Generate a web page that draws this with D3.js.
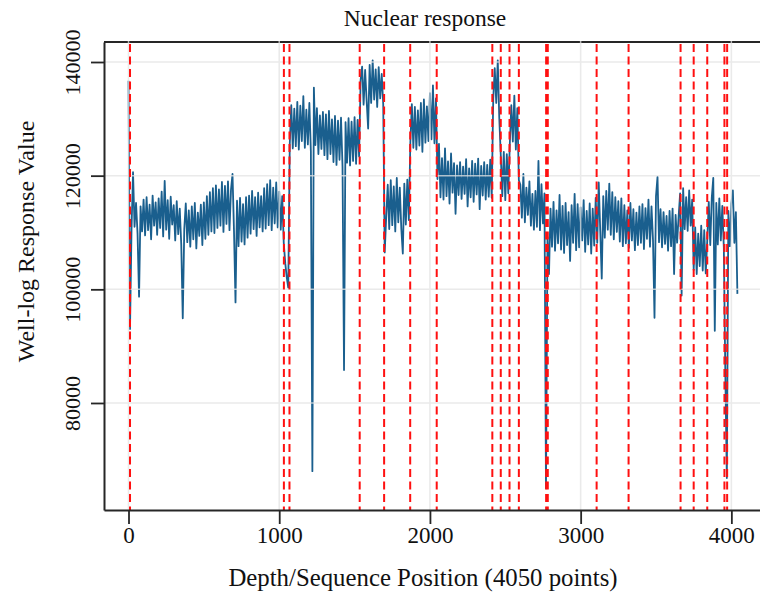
<!DOCTYPE html>
<html>
<head>
<meta charset="utf-8">
<script src="https://cdn.jsdelivr.net/npm/d3@7"></script>
<style>
  body { margin: 0; background: #fff; }
  svg { display: block; font-family: 'Liberation Serif', 'Times New Roman', serif; }
</style>
</head>
<body>
<svg width="760" height="596"></svg>
<script>
// well-log response, every 10 positions (in thousands)
var step = 10
var response = [
  136.7, 93.0, 110.5, 120.6, 111.0, 115.2, 109.8, 98.7, 114.6, 110.2,
  115.8, 109.5, 116.2, 110.4, 114.9, 108.8, 116.5, 111.2, 115.3, 109.6,
  116.0, 110.8, 117.2, 109.3, 119.1, 110.5, 115.7, 108.9, 116.3, 111.4,
  114.8, 108.6, 115.5, 109.7, 114.2, 107.9, 94.9, 110.6, 115.1, 108.3,
  113.9, 107.5, 114.6, 108.8, 115.2, 107.2, 113.5, 109.4, 114.9, 107.8,
  115.3, 108.9, 116.4, 109.6, 117.1, 110.2, 117.8, 109.9, 118.3, 110.8,
  117.6, 111.2, 118.9, 110.1, 118.2, 111.5, 119.0, 110.4, 117.5, 120.3,
  110.2, 97.7, 115.6, 107.6, 116.1, 108.4, 115.0, 107.9, 116.2, 109.1,
  116.5, 109.8, 117.3, 110.6, 116.2, 109.4, 117.0, 110.9, 116.4, 110.2,
  117.8, 110.7, 118.5, 111.3, 119.2, 110.4, 117.9, 111.6, 118.8, 110.9,
  117.2, 110.5, 116.4, 108.2, 104.6, 102.1, 100.3, 125.6, 132.4, 124.8,
  131.8, 125.2, 133.0, 124.6, 132.3, 126.1, 134.0, 124.9, 131.6, 125.5,
  132.8, 124.3, 68.0, 135.5, 125.4, 131.9, 123.8, 130.6, 124.7, 131.2,
  123.6, 130.8, 122.9, 131.4, 123.8, 129.9, 122.4, 130.5, 121.9, 129.7,
  122.8, 130.2, 121.6, 85.8, 129.4, 122.3, 130.1, 121.8, 129.5, 122.6,
  130.3, 122.1, 129.8, 123.4, 136.8, 139.2, 132.5, 138.6, 133.2, 128.3,
  139.5, 132.8, 140.3, 133.4, 138.7, 132.1, 139.1, 133.6, 137.9, 132.6,
  106.5, 112.8, 118.4, 110.6, 119.2, 111.3, 118.1, 110.2, 119.6, 111.8,
  117.9, 110.7, 106.3, 118.6, 111.4, 119.3, 112.2, 125.8, 132.6, 124.9,
  132.1, 124.6, 131.5, 125.3, 132.8, 124.2, 133.4, 125.8, 132.2, 126.1,
  134.5, 126.4, 135.9, 125.7, 133.6, 119.4, 125.6, 116.2, 123.1, 115.8,
  124.8, 116.4, 122.5, 115.1, 123.9, 117.0, 122.2, 113.3, 121.8, 116.6,
  122.4, 115.9, 121.6, 116.8, 122.9, 114.6, 121.3, 116.2, 122.6, 115.4,
  122.1, 116.7, 123.0, 114.1, 121.7, 116.5, 122.4, 115.8, 121.9, 116.3,
  122.8, 116.1, 133.5, 138.9, 132.8, 140.3, 130.2, 123.6, 116.4, 124.2,
  115.7, 123.8, 116.9, 125.6, 132.4, 126.0, 134.1, 124.6, 131.9, 119.2,
  118.4, 112.6, 120.3, 111.8, 117.9, 113.1, 119.0, 111.2, 116.8, 110.5,
  117.3, 111.0, 122.6, 110.4, 118.5, 111.6, 116.9, 65.0, 109.2, 102.7,
  114.2, 107.5, 115.4, 106.8, 113.9, 108.1, 116.6, 107.0, 114.7, 106.4,
  115.2, 107.8, 113.6, 105.0, 114.8, 108.2, 116.8, 106.9, 115.0, 107.4,
  114.4, 108.6, 115.7, 106.6, 113.8, 107.9, 115.1, 106.3, 114.2, 107.7,
  116.1, 108.2, 118.8, 110.3, 101.9, 116.4, 109.1, 117.3, 110.5, 118.6,
  109.6, 117.1, 108.8, 116.2, 110.1, 115.5, 108.4, 116.0, 107.6, 114.8,
  108.1, 113.9, 107.3, 115.2, 108.6, 114.1, 106.9, 113.5, 107.8, 114.6,
  108.2, 115.0, 107.1, 114.3, 108.9, 115.8, 107.5, 114.6, 108.7, 95.0,
  116.4, 119.8, 108.3, 114.1, 107.4, 113.6, 108.0, 112.9, 106.8, 113.8,
  107.6, 114.2, 102.7, 113.1, 108.2, 112.8, 116.9, 98.9, 117.8, 110.6,
  116.2, 110.3, 117.4, 111.2, 115.8, 103.4, 110.9, 102.7, 109.8, 104.1,
  111.2, 103.3, 110.4, 102.8, 108.6, 115.4, 107.8, 116.1, 119.6, 92.7,
  115.2, 107.9, 116.0, 108.6, 114.7, 107.3, 85.1, 66.8, 113.8, 107.6,
  115.1, 117.4, 108.2, 113.6, 99.2
]

// detected change points (red dashed lines)
var changePoints = [10, 1031, 1068, 1534, 1696, 1869, 2045, 2414, 2470, 2528,
  2590, 2771, 2782, 3106, 3318, 3663, 3750, 3840, 3954, 3972]

var xTicks = [0, 1000, 2000, 3000, 4000]
var yTicks = [80000, 100000, 120000, 140000]

// frame
var plotLeft = 104, plotTop = 42, plotBottom = 510, plotRight = 760

var svg = d3.select('svg')

var x = d3.scaleLinear().domain([-162.6, 4190]).range([plotLeft, plotRight])
var y = d3.scaleLinear().domain([61170, 143520]).range([plotBottom, plotTop])

svg.append('defs').append('clipPath').attr('id', 'plot')
  .append('rect')
  .attr('x', plotLeft).attr('y', plotTop)
  .attr('width', plotRight - plotLeft).attr('height', plotBottom - plotTop)

// top spine
svg.append('line')
  .attr('x1', plotLeft).attr('x2', plotRight)
  .attr('y1', plotTop).attr('y2', plotTop)
  .attr('stroke', '#262626').attr('stroke-width', 2)

// the signal
var line = d3.line()
  .x(function(d, i) { return x(i * step) })
  .y(function(d) { return y(d * 1000) })

svg.append('path')
  .datum(response)
  .attr('clip-path', 'url(#plot)')
  .attr('d', line)
  .attr('fill', 'none')
  .attr('stroke', '#1a5f8e')
  .attr('stroke-width', 1.8)
  .attr('stroke-linejoin', 'round')

// grid, drawn over the data
var grid = svg.append('g').attr('stroke', '#e3e3e3').attr('stroke-width', 1.5).attr('opacity', 0.75)
grid.selectAll('.gx').data(xTicks).enter().append('line')
  .attr('x1', function(d) { return x(d) }).attr('x2', function(d) { return x(d) })
  .attr('y1', plotTop - 1).attr('y2', plotBottom)
grid.selectAll('.gy').data(yTicks).enter().append('line')
  .attr('y1', function(d) { return y(d) }).attr('y2', function(d) { return y(d) })
  .attr('x1', plotLeft).attr('x2', plotRight)

// change points
svg.append('g')
  .selectAll('line')
  .data(changePoints)
  .enter()
  .append('line')
  .attr('x1', function(d) { return x(d) }).attr('x2', function(d) { return x(d) })
  .attr('y1', plotTop + 2).attr('y2', plotBottom)
  .attr('stroke', '#ff1010')
  .attr('stroke-width', 2)
  .attr('stroke-dasharray', '8,4.5')

// axes
var xAxis = svg.append('g')
  .attr('transform', 'translate(0,' + plotBottom + ')')
  .call(d3.axisBottom(x).tickValues(xTicks).tickSize(14).tickSizeOuter(0).tickFormat(d3.format('d')))
var yAxis = svg.append('g')
  .attr('transform', 'translate(' + plotLeft + ',0)')
  .call(d3.axisLeft(y).tickValues(yTicks).tickSize(13).tickSizeOuter(0).tickFormat(d3.format('d')))

svg.selectAll('.domain').attr('stroke', '#262626').attr('stroke-width', 2)
svg.selectAll('.tick line').attr('stroke', '#262626').attr('stroke-width', 1.8)
svg.selectAll('.tick text')
  .attr('fill', '#111')
  .style('font-family', "'Liberation Serif', 'Times New Roman', serif")
  .style('font-size', '22px')

xAxis.selectAll('text').attr('y', 33).attr('dy', 0).style('font-size', '23px')
yAxis.selectAll('text')
  .attr('transform', 'rotate(-90)')
  .attr('x', 0).attr('y', -24).attr('dy', 0)
  .attr('text-anchor', 'middle')

// titles
svg.append('text')
  .attr('x', 425).attr('y', 26)
  .attr('text-anchor', 'middle')
  .style('font-size', '23.5px')
  .attr('fill', '#111')
  .text('Nuclear response')

svg.append('text')
  .attr('x', 423).attr('y', 586)
  .attr('text-anchor', 'middle')
  .style('font-size', '24.8px')
  .attr('fill', '#111')
  .text('Depth/Sequence Position (4050 points)')

svg.append('text')
  .attr('transform', 'translate(34,241.5) rotate(-90)')
  .attr('text-anchor', 'middle')
  .style('font-size', '24px')
  .attr('fill', '#111')
  .text('Well-log Response Value')
</script>
</body>
</html>
